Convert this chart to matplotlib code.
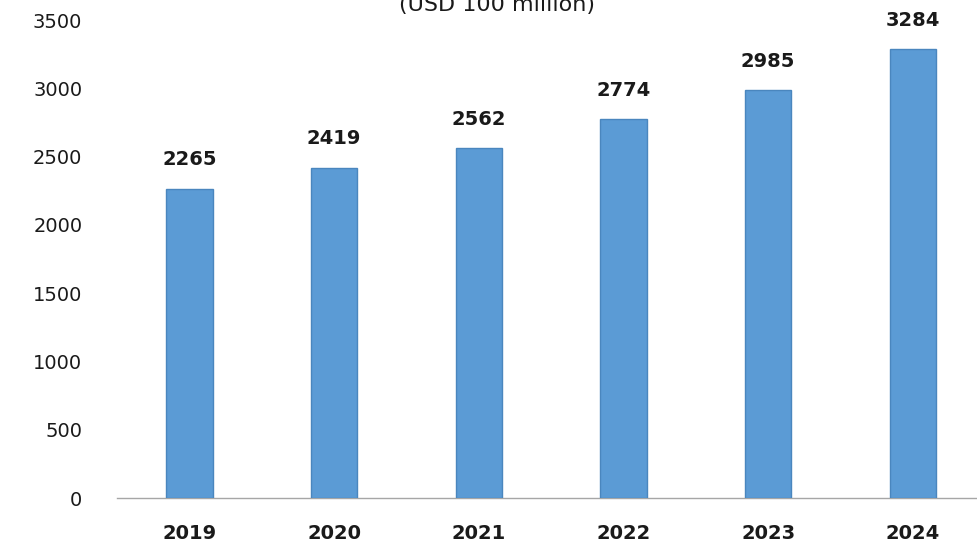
import matplotlib
matplotlib.use("Agg")
import matplotlib.pyplot as plt

years = ["2019", "2020", "2021", "2022", "2023", "2024"]
values = [2265, 2419, 2562, 2774, 2985, 3284]
yticks = [0, 500, 1000, 1500, 2000, 2500, 3000, 3500]
title = "(USD 100 million)"

fig = plt.figure(figsize=(9.78, 5.44), dpi=100)
ax = fig.add_axes([117/978, 46/544, 1 - 117/978, 478/544])
x = list(range(len(years)))
ax.bar(x, values, width=0.32, color="#5B9BD5", edgecolor="#4A86BE", linewidth=1.0, zorder=3)
for xi, v in zip(x, values):
    ax.annotate(str(v), (xi, v), xytext=(0, 14), textcoords="offset points",
                ha="center", va="bottom", fontsize=14, fontweight="bold", color="#1a1a1a")
ax.set_xlim(-0.5, 5.45)
ax.set_ylim(0, 3500)
ax.set_xticks(x)
ax.set_xticklabels(years, fontsize=14, fontweight="bold", color="#1a1a1a")
ax.set_yticks(yticks)
ax.set_yticklabels([str(t) for t in yticks], fontsize=14, color="#1a1a1a")
ax.tick_params(axis="x", length=0, pad=19)
ax.tick_params(axis="y", length=0, pad=25)
for s in ["top", "right", "left"]:
    ax.spines[s].set_visible(False)
ax.spines["bottom"].set_color("#a6a6a6")
ax.spines["bottom"].set_linewidth(1.0)
fig.text(497/978, 1 - 5/544, title, ha="center", va="center", fontsize=16, color="#1a1a1a")
fig.savefig("out.png", dpi=100)
